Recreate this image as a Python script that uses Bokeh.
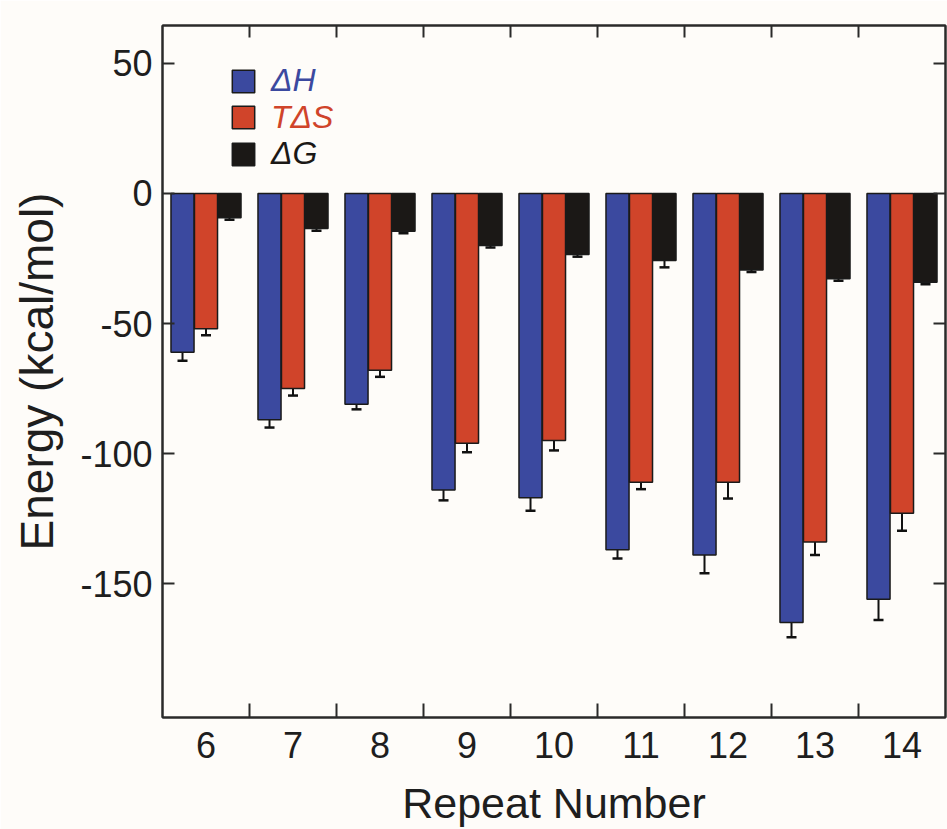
import numpy as np
from bokeh.plotting import figure
from bokeh.models import (ColumnDataSource, Whisker, TeeHead, FixedTicker, LinearAxis,
                          Legend, LegendItem, Range1d)
from bokeh.embed import file_html
from bokeh.resources import INLINE

repeats = [6, 7, 8, 9, 10, 11, 12, 13, 14]
dH = [-61, -87, -81, -114, -117, -137, -139, -165, -156]
dH_err = [3.3, 3.0, 2.0, 4.0, 5.0, 3.4, 7.0, 5.6, 8.0]
TdS = [-52, -75, -68, -96, -95, -111, -111, -134, -123]
TdS_err = [2.5, 2.7, 2.5, 3.5, 3.8, 2.7, 6.3, 5.0, 6.7]
dG = [-9.3, -13.5, -14.5, -20, -23.5, -25.8, -29.4, -32.8, -34.1]
dG_err = [0.8, 0.8, 0.8, 0.8, 0.8, 2.6, 0.8, 0.8, 0.8]

y_ticks = [-150, -100, -50, 0, 50]

BLUE = "#3b499f"
RED = "#d0442a"
BLACK = "#1b1816"
AX = "#2a2a2a"
BG = "#fefcf9"
FONT = "Liberation Sans"

BAR_W = 0.265
OFF = 0.27

p = figure(frame_width=783, frame_height=692,
           x_range=Range1d(5.5, 14.5), y_range=Range1d(-201.5, 64.6),
           output_backend="svg", toolbar_location=None,
           min_border_left=162, min_border_top=25, min_border_right=2, min_border_bottom=112,
           background_fill_color=BG, border_fill_color=BG)
p.grid.visible = False
p.outline_line_color = AX
p.outline_line_width = 2

series = [(dH, dH_err, -OFF, BLUE), (TdS, TdS_err, 0.0, RED), (dG, dG_err, OFF, BLACK)]
renderers = []
for vals, errs, off, col in series:
    v = np.array(vals, dtype=float)
    e = np.array(errs, dtype=float)
    src = ColumnDataSource(dict(x=np.array(repeats, dtype=float) + off, top=v,
                                upper=v + e, lower=v - e))
    r = p.vbar(x="x", top="top", bottom=0, width=BAR_W, source=src,
               fill_color=col, line_color="#1a1a1a", line_width=1.5)
    renderers.append(r)
    w = Whisker(source=src, base="x", upper="upper", lower="lower", dimension="height",
                line_color="#111111", line_width=2,
                upper_head=TeeHead(size=10, line_width=2.5, line_color="#111111"),
                lower_head=TeeHead(size=10, line_width=2.5, line_color="#111111"))
    p.add_layout(w)

bounds = [r + 0.5 for r in repeats[:-1]]

# bottom axis
xa = p.xaxis[0]
xa.ticker = FixedTicker(ticks=repeats, minor_ticks=bounds)
xa.major_tick_in = 0
xa.major_tick_out = 0
xa.minor_tick_in = 14
xa.minor_tick_out = 0
xa.minor_tick_line_width = 2
xa.minor_tick_line_color = AX
xa.axis_line_color = AX
xa.axis_line_width = 2
xa.major_label_text_font = FONT
xa.major_label_text_font_size = "36px"
xa.major_label_text_color = "#1e1e1e"
xa.major_label_standoff = 14
xa.axis_label = "Repeat Number"
xa.axis_label_text_font = FONT
xa.axis_label_text_font_size = "43px"
xa.axis_label_text_font_style = "normal"
xa.axis_label_text_color = "#1e1e1e"
xa.axis_label_standoff = 18

# left axis
ya = p.yaxis[0]
ya.ticker = FixedTicker(ticks=y_ticks, minor_ticks=[])
ya.major_label_overrides = {t: str(t) for t in y_ticks}
ya.major_tick_in = 12
ya.major_tick_out = 0
ya.major_tick_line_width = 2
ya.major_tick_line_color = AX
ya.minor_tick_in = 0
ya.minor_tick_out = 0
ya.axis_line_color = AX
ya.axis_line_width = 2
ya.major_label_text_font = FONT
ya.major_label_text_font_size = "36px"
ya.major_label_text_color = "#1e1e1e"
ya.major_label_standoff = 10
ya.axis_label = "Energy (kcal/mol)"
ya.axis_label_text_font = FONT
ya.axis_label_text_font_size = "46px"
ya.axis_label_text_font_style = "normal"
ya.axis_label_text_color = "#1e1e1e"
ya.axis_label_standoff = 14

# mirrored top and right axes: ticks only (drawn as minor ticks, no labels)
top = LinearAxis(ticker=FixedTicker(ticks=[], minor_ticks=bounds),
                 major_tick_in=0, major_tick_out=0, minor_tick_in=12, minor_tick_out=0,
                 minor_tick_line_width=2, minor_tick_line_color=AX,
                 axis_line_color=AX, axis_line_width=2, major_label_standoff=0)
p.add_layout(top, "above")
right = LinearAxis(ticker=FixedTicker(ticks=[], minor_ticks=y_ticks),
                   major_tick_in=0, major_tick_out=0, minor_tick_in=12, minor_tick_out=0,
                   minor_tick_line_width=2, minor_tick_line_color=AX,
                   axis_line_color=AX, axis_line_width=2, major_label_standoff=0)
p.add_layout(right, "right")

# legend: one per entry so each label keeps its own colour
labels = ["ΔH", "TΔS", "ΔG"]
colors = [BLUE, RED, BLACK]
for i, (lab, r, c) in enumerate(zip(labels, renderers, colors)):
    lg = Legend(items=[LegendItem(label=lab, renderers=[r])],
                location=(67, 618 - i * 36.5),
                glyph_width=28, glyph_height=28, label_standoff=14,
                label_text_font=FONT, label_text_font_size="32px",
                label_text_font_style="italic", label_text_color=c,
                padding=0, margin=0, spacing=0, border_line_color=None,
                background_fill_alpha=0, label_height=28)
    p.add_layout(lg)

open("out.html", "w").write(file_html(p, INLINE))
